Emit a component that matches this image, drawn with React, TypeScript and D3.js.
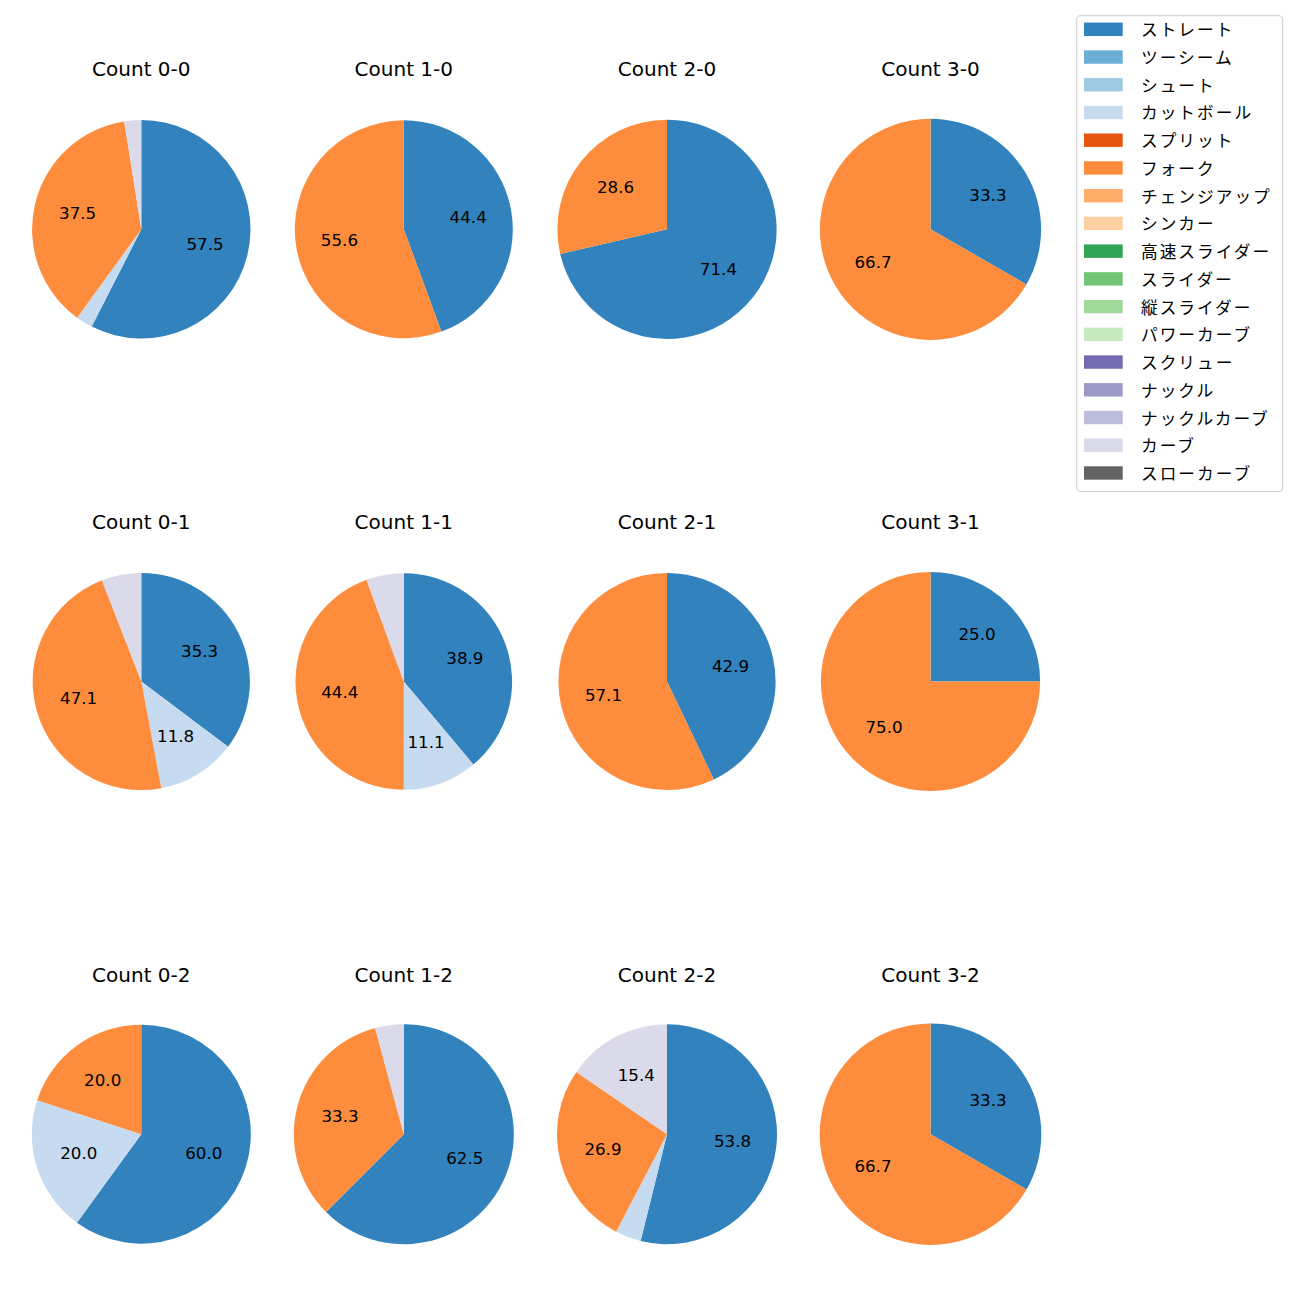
import React from "react";
import * as d3 from "d3";

const pitchTypes = [
  "ストレート", "ツーシーム", "シュート", "カットボール", "スプリット", "フォーク",
  "チェンジアップ", "シンカー", "高速スライダー", "スライダー", "縦スライダー",
  "パワーカーブ", "スクリュー", "ナックル", "ナックルカーブ", "カーブ", "スローカーブ",
];
const pitchColors = [
  "#3182bd", "#6baed6", "#9ecae1", "#c6dbef", "#e6550d", "#fd8d3c",
  "#fdae6b", "#fdd0a2", "#31a354", "#74c476", "#a1d99b", "#c7e9c0",
  "#756bb1", "#9e9ac8", "#bcbddc", "#dadaeb", "#636363",
];

const countLabels = [
  "Count 0-0", "Count 1-0", "Count 2-0", "Count 3-0",
  "Count 0-1", "Count 1-1", "Count 2-1", "Count 3-1",
  "Count 0-2", "Count 1-2", "Count 2-2", "Count 3-2",
];

// percentages per count (same order as countLabels)
const straightPct = [57.5, 44.4, 71.4, 33.3, 35.3, 38.9, 42.9, 25.0, 60.0, 62.5, 53.8, 33.3];
const cutterPct = [2.5, 0, 0, 0, 11.8, 11.1, 0, 0, 20.0, 0, 3.8, 0];
const forkPct = [37.5, 55.6, 28.6, 66.7, 47.1, 44.4, 57.1, 75.0, 20.0, 33.3, 26.9, 66.7];
const curvePct = [2.5, 0, 0, 0, 5.9, 5.6, 0, 0, 0, 4.2, 15.4, 0];

const seriesByType: Record<string, number[]> = {
  "ストレート": straightPct,
  "カットボール": cutterPct,
  "フォーク": forkPct,
  "カーブ": curvePct,
};

const LATIN_FONT = "'DejaVu Sans', 'Noto Sans CJK JP', sans-serif";
const CJK_FONT = "'Noto Sans CJK JP', 'DejaVu Sans', sans-serif";

// layout
const colX = [141.3, 403.8, 667, 930.5];
const rowCY = [229.3, 681.5, 1134.2];
const rowTitleY = [76, 529, 981.7];
const radii = [109.2, 109, 109.6, 110.6, 108.6, 108.3, 108.6, 109.6, 109.5, 110, 110, 110.8];

export default function App() {
  const pie = d3
    .pie<{ type: string; color: string; v: number }>()
    .sort(null)
    .value((d) => d.v);

  return (
    <svg
      width={1300}
      height={1300}
      style={{ position: "absolute", left: 0, top: 0, background: "#fff" }}
      fontFamily={LATIN_FONT}
    >
      <rect x={0} y={0} width={1300} height={1300} fill="#fff" />
      {countLabels.map((title, i) => {
        const col = i % 4;
        const row = Math.floor(i / 4);
        const cx = colX[col];
        const cy = rowCY[row];
        const r = radii[i];
        const data = pitchTypes
          .map((t, k) => ({ type: t, color: pitchColors[k], v: seriesByType[t] ? seriesByType[t][i] : 0 }))
          .filter((d) => d.v > 0);
        const arcs = pie(data);
        const arc = d3.arc<d3.PieArcDatum<any>>().innerRadius(0).outerRadius(r);
        return (
          <g key={title}>
            <text x={cx} y={rowTitleY[row]} textAnchor="middle" fontSize={20} fill="#000">
              {title}
            </text>
            <g transform={`translate(${cx},${cy})`}>
              {arcs.map((a) => (
                <path key={a.data.type} d={arc(a) || ""} fill={a.data.color} />
              ))}
              {arcs.map((a) => {
                if (a.data.v < 10) return null;
                const mid = (a.startAngle + a.endAngle) / 2;
                const lx = Math.sin(mid) * r * 0.6;
                const ly = -Math.cos(mid) * r * 0.6;
                return (
                  <text
                    key={"l" + a.data.type}
                    x={lx}
                    y={ly + 5}
                    textAnchor="middle"
                    fontSize={16.7}
                    fill="#000"
                  >
                    {a.data.v.toFixed(1)}
                  </text>
                );
              })}
            </g>
          </g>
        );
      })}
      <g>
        <rect
          x={1076.7}
          y={15.7}
          width={206}
          height={476}
          rx={4}
          fill="#fff"
          fillOpacity={0.8}
          stroke="#cccccc"
          strokeWidth={1}
        />
        {pitchTypes.map((t, k) => {
          const y = 29.3 + k * 27.73;
          return (
            <g key={t}>
              <rect x={1084} y={y - 6.7} width={38.7} height={13.4} fill={pitchColors[k]} />
              <text
                x={1141}
                y={y}
                dominantBaseline="central"
                fontSize={16.7}
                letterSpacing={2}
                fontFamily={CJK_FONT}
                fill="#000"
              >
                {t}
              </text>
            </g>
          );
        })}
      </g>
    </svg>
  );
}
